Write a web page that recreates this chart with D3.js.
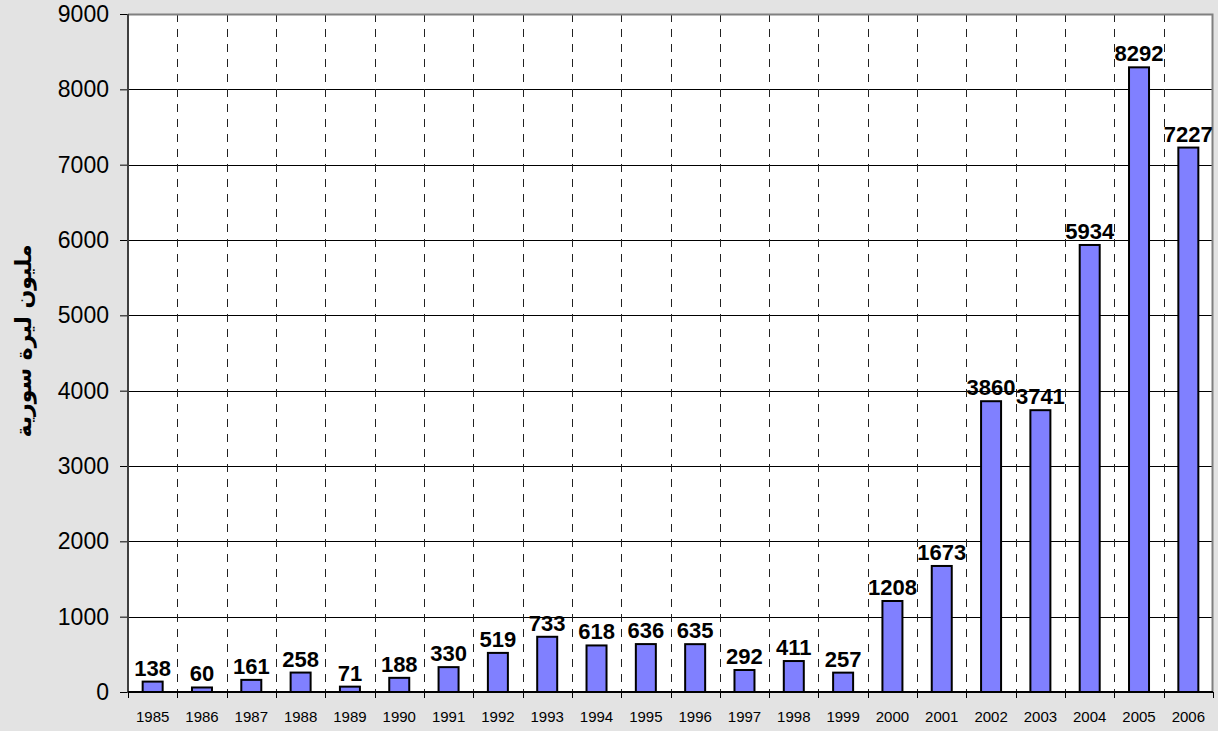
<!DOCTYPE html>
<html><head><meta charset="utf-8">
<script src="https://cdn.jsdelivr.net/npm/d3@7"></script>
<style>body{margin:0;background:#e3e3e3;} svg{display:block;}</style>
</head><body><svg id="c" width="1218" height="731"></svg>
<script>
const years = ["1985","1986","1987","1988","1989","1990","1991","1992","1993","1994","1995","1996","1997","1998","1999","2000","2001","2002","2003","2004","2005","2006"];
const values = [138,60,161,258,71,188,330,519,733,618,636,635,292,411,257,1208,1673,3860,3741,5934,8292,7227];
const yTicks = [0,1000,2000,3000,4000,5000,6000,7000,8000,9000];
const yTitle = "مليون ليرة سورية";

const svg = d3.select("#c");
const L = 128, R = 1213, T = 14, B = 692;
svg.append("rect").attr("width",1218).attr("height",731).attr("fill","#e3e3e3");
svg.append("rect").attr("x",L).attr("y",T).attr("width",R-L).attr("height",B-T).attr("fill","#fff");

const x = d3.scaleBand().domain(years).range([L,R]).padding(0);
const y = d3.scaleLinear().domain([0,9000]).range([B,T]);

// horizontal grid
svg.append("g").selectAll("line").data(yTicks.slice(1,-1)).join("line")
  .attr("x1",L).attr("x2",R).attr("y1",d=>Math.round(y(d))+0.5).attr("y2",d=>Math.round(y(d))+0.5)
  .attr("stroke","#000").attr("stroke-width",1);
// vertical dashed grid at boundaries
svg.append("g").selectAll("line").data(years.slice(1)).join("line")
  .attr("x1",d=>Math.round(x(d))+0.5).attr("x2",d=>Math.round(x(d))+0.5).attr("y1",T).attr("y2",B)
  .attr("stroke","#222").attr("stroke-width",1).attr("stroke-dasharray","8,7");
// border top/right
svg.append("path").attr("d",`M${L},${T+0.5}H${R-0.5}V${B}`).attr("fill","none").attr("stroke","#808080").attr("stroke-width",2);

// bars
const bw = 20;
svg.append("g").selectAll("rect").data(values).join("rect")
  .attr("x",(d,i)=>x(years[i])+x.bandwidth()/2-bw/2)
  .attr("y",d=>y(d)).attr("width",bw).attr("height",d=>B-y(d))
  .attr("fill","#8080ff").attr("stroke","#000").attr("stroke-width",2);

// labels
svg.append("g").selectAll("text").data(values).join("text")
  .attr("x",(d,i)=>x(years[i])+x.bandwidth()/2)
  .attr("y",d=>y(d)-6)
  .attr("text-anchor","middle").attr("font-family","Liberation Sans, Arial, sans-serif")
  .attr("font-weight","bold").attr("font-size",22).attr("fill","#000").text(d=>d);

// y axis
const ya = svg.append("g").attr("transform",`translate(${L},0)`)
  .call(d3.axisLeft(y).tickValues(yTicks).tickSize(8).tickPadding(11).tickFormat(d3.format("d")));
ya.select(".domain").remove();
ya.selectAll(".tick line").attr("stroke","#000");
ya.selectAll("text").attr("font-family","Liberation Sans, Arial, sans-serif").attr("font-size",23).attr("fill","#000");
svg.append("line").attr("x1",L).attr("x2",L).attr("y1",T).attr("y2",B+1).attr("stroke","#404040").attr("stroke-width",2);

// x axis
const xa = svg.append("g").attr("transform",`translate(0,${B})`)
  .call(d3.axisBottom(x).tickSize(0).tickPadding(19));
xa.select(".domain").remove();
xa.selectAll("text").attr("font-family","Liberation Sans, Arial, sans-serif").attr("font-size",15).attr("fill","#000");
svg.append("line").attr("x1",L).attr("x2",R).attr("y1",B).attr("y2",B).attr("stroke","#000").attr("stroke-width",2);
svg.append("g").selectAll("line").data(years.concat(["end"])).join("line")
  .attr("x1",(d,i)=>Math.round(L+i*x.bandwidth())+0.5).attr("x2",(d,i)=>Math.round(L+i*x.bandwidth())+0.5)
  .attr("y1",B).attr("y2",B+6).attr("stroke","#000");

// y title
svg.append("text").attr("transform","translate(31,341) rotate(-90)")
  .attr("text-anchor","middle").attr("font-family","DejaVu Sans, sans-serif")
  .attr("font-weight","bold").attr("font-size",22).attr("fill","#000").text(yTitle);
</script></body></html>
